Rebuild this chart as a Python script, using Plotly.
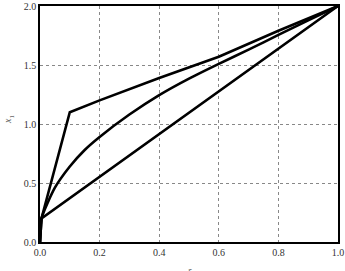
import plotly.graph_objects as go

lower_x = [0.0, 0.005, 1.0]
lower_y = [0.0, 0.2, 2.0]

middle_x = [0.0, 0.005, 0.05, 0.1, 0.15, 0.2, 0.3, 0.4, 0.5, 0.6, 0.7, 0.8, 0.9, 1.0]
middle_y = [0.0, 0.2, 0.46, 0.64, 0.78, 0.89, 1.08, 1.245, 1.385, 1.51, 1.63, 1.755, 1.878, 2.0]

upper_x = [0.0, 0.005, 0.1, 0.2, 0.4, 0.6, 0.8, 1.0]
upper_y = [0.0, 0.2, 1.1, 1.2, 1.39, 1.57, 1.79, 2.0]

x_ticks = [0.0, 0.2, 0.4, 0.6, 0.8, 1.0]
y_ticks = [0.0, 0.5, 1.0, 1.5, 2.0]

fig = go.Figure()
fig.add_trace(go.Scatter(x=lower_x, y=lower_y, mode="lines",
                         line=dict(color="black", width=2.6), showlegend=False))
fig.add_trace(go.Scatter(x=middle_x, y=middle_y, mode="lines",
                         line=dict(color="black", width=2.6, shape="spline", smoothing=0.6),
                         showlegend=False))
fig.add_trace(go.Scatter(x=upper_x, y=upper_y, mode="lines",
                         line=dict(color="black", width=2.6), showlegend=False))

font = dict(family="Liberation Serif", size=10, color="#333")
axis_common = dict(showgrid=True, gridcolor="#888", griddash="3px,3px", gridwidth=1,
                   showline=True, linecolor="black", linewidth=1.6, mirror=True,
                   zeroline=False, ticks="", tickfont=font, automargin=False)

fig.update_layout(
    width=345, height=271,
    margin=dict(l=40, r=7, t=6, b=29),
    paper_bgcolor="white", plot_bgcolor="white",
    xaxis=dict(range=[0, 1], tickvals=x_ticks, ticktext=[f"{v:.1f}" for v in x_ticks], **axis_common),
    yaxis=dict(range=[0, 2], tickvals=y_ticks, ticktext=[f"{v:.1f}" for v in y_ticks], **axis_common),
    annotations=[
        dict(text="<i>x</i><sub>1</sub>", xref="paper", yref="paper", x=-0.105, y=0.52,
             xanchor="center", yanchor="middle", textangle=-90, showarrow=False,
             font=dict(family="Liberation Serif", size=10, color="#666")),
        dict(text="<i>ξ</i>", xref="paper", yref="paper", x=0.5, y=-0.095,
             xanchor="center", yanchor="top", showarrow=False,
             font=dict(family="Liberation Serif", size=11, color="#666")),
    ],
)

fig.write_html("out.html")
